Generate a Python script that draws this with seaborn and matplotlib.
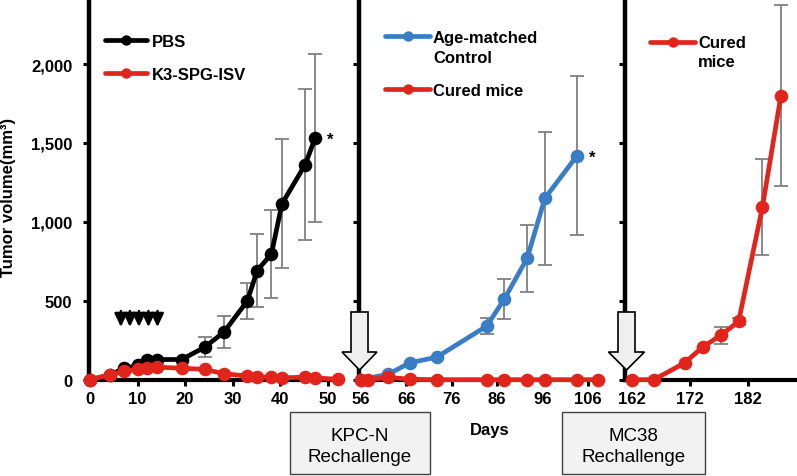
import numpy as np
import pandas as pd
import matplotlib
matplotlib.use("Agg")
import matplotlib.pyplot as plt
import seaborn as sns
from matplotlib.patches import Polygon, Rectangle
from matplotlib.lines import Line2D

# ---------------- data ----------------
p1_days = [0, 4.2, 7.2, 10.2, 12.1, 14.1, 19.3, 24.2, 28.2, 33.1, 35.2, 38.2, 40.4, 45.3, 47.4]
pbs_vals = [0, 30, 73, 90, 122, 128, 128, 207, 302, 498, 692, 797, 1114, 1363, 1532]
pbs_err = [0, 0, 0, 0, 0, 0, 0, 65, 100, 113, 232, 277, 409, 477, 532]

k3_days = [0, 4.2, 7.2, 10.2, 12.1, 14.1, 19.3, 24.2, 28.2, 33.1, 35.2, 38.2, 40.4, 45.3, 47.4, 52.3]
k3_vals = [0, 32, 53, 65, 73, 79, 73, 65, 38, 23, 17, 17, 11, 17, 11, 3]

ctrl_days = [56, 62, 66.8, 72.7, 83.7, 87.6, 92.6, 96.5, 103.6]
ctrl_vals = [0, 35, 107, 143, 340, 513, 770, 1150, 1420]
ctrl_err = [0, 0, 0, 0, 50, 128, 213, 420, 506]

cured1_days = [56, 57.5, 62, 66.8, 72.7, 83.7, 87.6, 92.6, 96.5, 103.5, 108.3]
cured1_vals = [0, 0, 15, 3, 0, 0, 0, 0, 0, 0, 0]

cured2_days = [162, 165.8, 171.1, 174.2, 177.3, 180.4, 184.5, 187.7]
cured2_vals = [0, 0, 107, 207, 281, 369, 1093, 1800]
cured2_err = [0, 0, 0, 0, 53, 24, 304, 572]

treat_days = [6.5, 8.4, 10.3, 12.3, 14.2]

p1_ticks = [0, 10, 20, 30, 40, 50]
p2_ticks = [56, 66, 76, 86, 96, 106]
p3_ticks = [162, 172, 182]
y_ticks = [0, 500, 1000, 1500, 2000]

BLACK = "#000000"
RED = "#e2251c"
BLUE = "#3b7dc4"
GRAY = "#808080"

# ---------------- style ----------------
sns.set_theme(style="ticks", rc={
    "axes.edgecolor": "black", "xtick.color": "black", "ytick.color": "black",
    "text.color": "black", "axes.labelcolor": "black",
})
plt.rcParams["font.family"] = ["Liberation Sans", "DejaVu Sans"]
plt.rcParams["font.weight"] = "bold"

W, H = 797, 477
def fx(px):
    return px / W
def fy(py):
    return 1 - py / H

fig = plt.figure(figsize=(7.97, 4.77), dpi=100)
Y0, YT = 380.7, 3.0
YSCALE = 0.1578
ymax = (Y0 - YT) / YSCALE

def add_axes(l, r):
    return fig.add_axes([fx(l), fy(Y0), (r - l) / W, (Y0 - YT) / H])

ax1 = add_axes(89, 342)
ax2 = add_axes(359, 603)
ax3 = add_axes(625, 796)

ax1.set_xlim(-0.21, 53.05)
ax2.set_xlim(55.56, 109.3)
ax3.set_xlim(160.8, 190.3)

for ax in (ax1, ax2, ax3):
    ax.set_ylim(0, ymax)
    ax.set_facecolor("none")
    for s in ("top", "right"):
        ax.spines[s].set_visible(False)
    ax.spines["left"].set_linewidth(3.2)
    ax.spines["bottom"].set_linewidth(3)
    ax.set_yticks(y_ticks)
    ax.tick_params(axis="both", direction="out", length=4, width=2.2,
                   labelsize=12, colors="black")
    ax.tick_params(axis="y", pad=8)
    ax.tick_params(axis="x", pad=4)

ax1.set_xticks(p1_ticks)
ax2.set_xticks(p2_ticks)
ax3.set_xticks(p3_ticks)
ax1.set_yticklabels([f"{v:,}" for v in y_ticks])
ax2.tick_params(axis="y", labelleft=False)
ax3.tick_params(axis="y", labelleft=False)


def errbars(ax, days, vals, err):
    d = np.asarray(days, float)
    v = np.asarray(vals, float)
    e = np.asarray(err, float)
    m = e > 0
    ax.errorbar(d[m], v[m], yerr=e[m], fmt="none", ecolor=GRAY,
                elinewidth=1.3, capsize=5, capthick=1.3, zorder=2)


def series(ax, days, vals, color):
    sns.lineplot(x=days, y=vals, ax=ax, color=color, marker="o", markersize=9.8,
                 linewidth=3.4, markeredgewidth=0, clip_on=False, zorder=3,
                 errorbar=None, sort=False)


errbars(ax1, p1_days, pbs_vals, pbs_err)
series(ax1, p1_days, pbs_vals, BLACK)
series(ax1, k3_days, k3_vals, RED)

errbars(ax2, ctrl_days, ctrl_vals, ctrl_err)
series(ax2, ctrl_days, ctrl_vals, BLUE)
series(ax2, cured1_days, cured1_vals, RED)

errbars(ax3, cured2_days, cured2_vals, cured2_err)
series(ax3, cured2_days, cured2_vals, RED)

# treatment arrows
tip_v = (Y0 - 328) / YSCALE
top_v = (Y0 - 312) / YSCALE
for d in treat_days:
    ax1.annotate("", xy=(d, tip_v), xytext=(d, top_v),
                 arrowprops=dict(arrowstyle="-|>,head_length=0.8,head_width=0.38",
                                 mutation_scale=10, color="black", lw=1.8,
                                 shrinkA=0, shrinkB=0))

# asterisks
ax1.annotate("*", xy=(p1_days[-1], pbs_vals[-1]), xytext=(11, -1),
             textcoords="offset points", ha="center", va="center", fontsize=12)
ax2.annotate("*", xy=(ctrl_days[-1], ctrl_vals[-1]), xytext=(11, -1),
             textcoords="offset points", ha="center", va="center", fontsize=12)

# axis labels
ax1.set_ylabel("Tumor volume(mm\u00b3)", fontsize=12, fontweight="bold")
ax1.yaxis.set_label_coords((16.5 - 89) / (342 - 89), (Y0 - 197) / (Y0 - YT))
ax2.set_xlabel("Days", fontsize=12, fontweight="bold")
ax2.xaxis.set_label_coords((490 - 359) / (603 - 359), -0.111)

# legends (manual)
def leg_line(x0, x1, y, color):
    fig.add_artist(Line2D([fx(x0), fx(x1)], [fy(y), fy(y)], color=color, lw=3.4,
                          transform=fig.transFigure))
    fig.add_artist(Line2D([fx((x0 + x1) / 2)], [fy(y)], color=color, marker="o",
                          markersize=7.5, markeredgewidth=0, transform=fig.transFigure))

def leg_text(x, base, s):
    fig.text(fx(x), fy(base), s, ha="left", va="baseline", fontsize=12, fontweight="bold")

leg_line(105, 147, 40.7, BLACK)
leg_text(152, 46.7, "PBS")
leg_line(105, 147, 74, RED)
leg_text(152, 80, "K3-SPG-ISV")

leg_line(385, 430, 36.7, BLUE)
leg_text(433, 42.7, "Age-matched")
leg_text(433, 62.7, "Control")
leg_line(385, 430, 90, RED)
leg_text(433, 95.7, "Cured mice")

leg_line(650, 695, 43.3, RED)
leg_text(698, 48.3, "Cured")
leg_text(698, 66.7, "mice")

# hollow rechallenge arrows
def hollow_arrow(cx, top, head_y, tip, shw, hhw):
    pts = [(cx - shw, top), (cx + shw, top), (cx + shw, head_y), (cx + hhw, head_y),
           (cx, tip), (cx - hhw, head_y), (cx - shw, head_y)]
    fig.add_artist(Polygon([(fx(x), fy(y)) for x, y in pts], closed=True,
                           facecolor="#efefef", edgecolor="black", lw=1.2,
                           transform=fig.transFigure, zorder=5))

hollow_arrow(359.5, 313, 353, 371, 8.5, 17.5)
hollow_arrow(626.5, 313, 353, 371, 8.5, 18)

# rechallenge boxes
def box(x0, x1, y0, y1, lines, bases):
    fig.add_artist(Rectangle((fx(x0), fy(y1)), fx(x1) - fx(x0), fy(y0) - fy(y1),
                             facecolor="#f2f2f2", edgecolor="#404040", lw=1.0,
                             transform=fig.transFigure))
    for s, b in zip(lines, bases):
        fig.text(fx((x0 + x1) / 2), fy(b), s, ha="center", va="baseline",
                 fontsize=13.5, fontweight="normal")

box(290, 430, 413, 475, ["KPC-N", "Rechallenge"], [441.5, 462.5])
box(562, 705, 413, 475, ["MC38", "Rechallenge"], [441.5, 462.5])

fig.savefig("out.png", dpi=100)
